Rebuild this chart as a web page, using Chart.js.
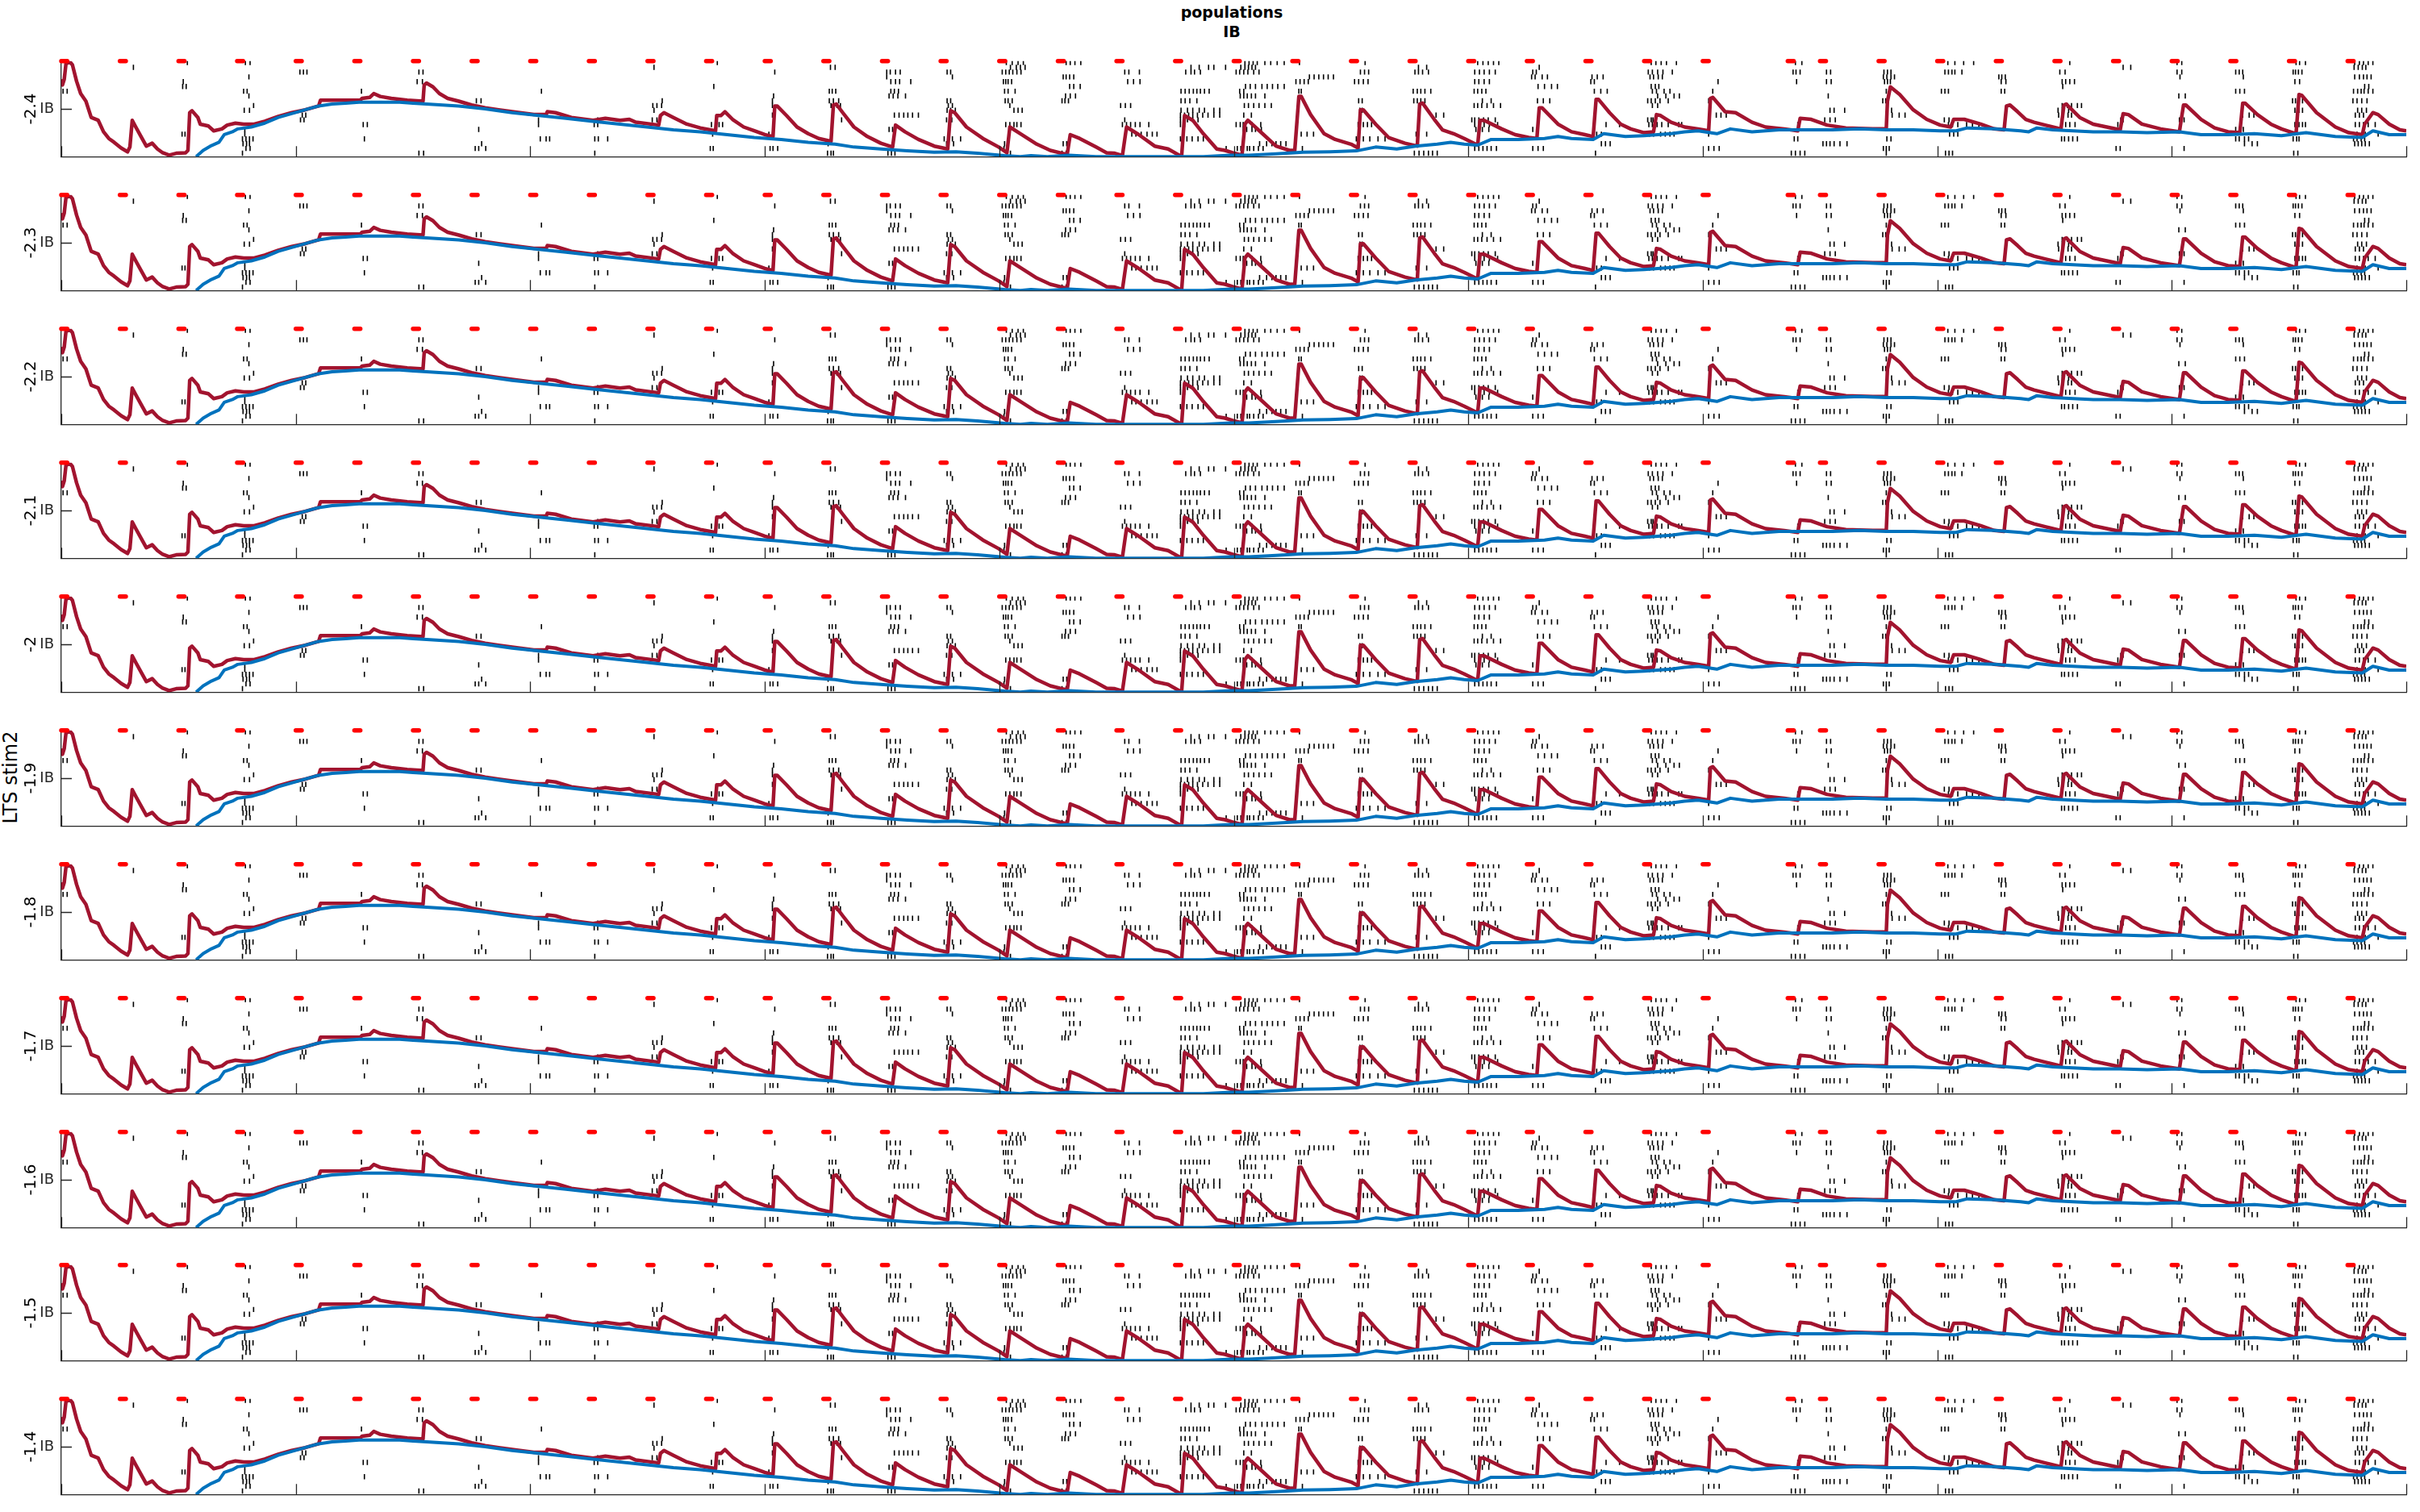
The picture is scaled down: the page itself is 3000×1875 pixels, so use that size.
<!DOCTYPE html>
<html>
<head>
<meta charset="utf-8">
<script src="https://cdn.jsdelivr.net/npm/chart.js@4.4.1/dist/chart.umd.min.js"></script>
<style>
  html, body { margin: 0; padding: 0; background: #fff; }
  #wrap { position: relative; width: 3000px; height: 1875px; background: #fff; overflow: hidden; }
  .panel { position: absolute; left: 0; width: 3000px; height: 158px; }
  .txt { position: absolute; font-family: "DejaVu Sans", sans-serif; color: #000; white-space: nowrap; }
</style>
</head>
<body>
<div id="wrap">
  <div class="txt" id="t1" style="left:1527px;top:15px;transform:translate(-50%,-50%);font-size:19px;font-weight:bold;">populations</div>
  <div class="txt" id="t2" style="left:1527px;top:39px;transform:translate(-50%,-50%);font-size:19px;font-weight:bold;">IB</div>
  <div class="txt" id="t3" style="left:13px;top:964px;transform:translate(-50%,-50%) rotate(-90deg);font-size:24px;">LTS stim2</div>
</div>
<script>
// ---------- data ----------
const panelLabels = ['-2.4','-2.3','-2.2','-2.1','-2','-1.9','-1.8','-1.7','-1.6','-1.5','-1.4'];
const xMin = 0, xMax = 4000;
const xTickValues = [0,400,800,1200,1600,2000,2400,2800,3200,3600,4000];
const yTickValues = [0.5];
const yTickLabels = ['IB'];
const stimOnsets = [0,100,200,300,400,500,600,700,800,900,1000,1100,1200,1300,1400,1500,1600,1700,1800,1900,2000,2100,2200,2300,2400,2500,2600,2700,2800,2945,3000,3100,3200,3300,3400,3500,3600,3700,3800,3900];
const stimDuration = 10;
const stimLevel = 1;

const redTrace = [[0,0.81],[2,0.75],[5,0.81],[8,0.975],[15,0.99],[19,0.96],[26,0.79],[33,0.66],[42,0.58],[51,0.41],[63,0.38],[72,0.26],[81,0.19],[90,0.15],[102,0.09],[113,0.05],[117,0.10],[121,0.38],[127,0.31],[136,0.21],[145,0.11],[155,0.14],[164,0.08],[173,0.04],[184,0.015],[196,0.035],[212,0.04],[216,0.065],[219,0.46],[223,0.48],[233,0.41],[237,0.34],[251,0.32],[260,0.27],[274,0.29],[283,0.33],[297,0.35],[311,0.34],[329,0.34],[347,0.37],[370,0.42],[393,0.46],[416,0.49],[439,0.53],[442,0.59],[462,0.59],[485,0.59],[510,0.59],[513,0.61],[526,0.62],[533,0.66],[544,0.63],[563,0.61],[590,0.59],[617,0.58],[619,0.75],[623,0.77],[634,0.73],[645,0.66],[659,0.61],[678,0.58],[700,0.54],[723,0.51],[746,0.49],[769,0.47],[806,0.44],[827,0.44],[829,0.47],[843,0.46],[870,0.41],[907,0.38],[928,0.40],[953,0.38],[969,0.39],[980,0.36],[1019,0.33],[1022,0.43],[1028,0.46],[1044,0.41],[1067,0.34],[1090,0.30],[1116,0.27],[1118,0.43],[1125,0.43],[1132,0.47],[1145,0.39],[1164,0.31],[1182,0.27],[1200,0.23],[1214,0.21],[1217,0.53],[1221,0.53],[1237,0.43],[1255,0.31],[1274,0.24],[1292,0.19],[1313,0.16],[1317,0.54],[1322,0.55],[1333,0.46],[1352,0.31],[1375,0.21],[1398,0.14],[1418,0.10],[1423,0.33],[1439,0.26],[1462,0.18],[1489,0.11],[1512,0.08],[1517,0.48],[1524,0.46],[1544,0.31],[1572,0.19],[1599,0.10],[1613,0.04],[1618,0.31],[1636,0.24],[1664,0.13],[1687,0.065],[1710,0.03],[1716,0.03],[1721,0.23],[1737,0.19],[1765,0.10],[1783,0.04],[1797,0.035],[1810,0.01],[1817,0.31],[1838,0.23],[1865,0.11],[1888,0.08],[1911,0.0],[1916,0.43],[1930,0.38],[1948,0.24],[1971,0.08],[1985,0.065],[1998,0.04],[2014,0.015],[2019,0.34],[2024,0.38],[2049,0.24],[2072,0.11],[2095,0.065],[2104,0.065],[2111,0.63],[2115,0.63],[2131,0.44],[2154,0.24],[2173,0.18],[2200,0.13],[2212,0.09],[2216,0.49],[2221,0.49],[2242,0.34],[2264,0.20],[2292,0.14],[2313,0.11],[2317,0.55],[2322,0.56],[2342,0.39],[2356,0.28],[2375,0.24],[2393,0.19],[2416,0.12],[2420,0.38],[2427,0.38],[2457,0.29],[2480,0.23],[2503,0.20],[2517,0.19],[2521,0.51],[2526,0.51],[2553,0.34],[2576,0.26],[2599,0.23],[2613,0.21],[2618,0.60],[2622,0.60],[2641,0.46],[2660,0.34],[2677,0.29],[2700,0.25],[2716,0.26],[2721,0.44],[2728,0.43],[2746,0.36],[2769,0.31],[2792,0.29],[2810,0.27],[2813,0.61],[2817,0.62],[2838,0.47],[2856,0.46],[2884,0.36],[2907,0.31],[2939,0.29],[2962,0.27],[2966,0.40],[2985,0.39],[3012,0.33],[3044,0.30],[3090,0.29],[3113,0.29],[3115,0.58],[3120,0.73],[3136,0.65],[3159,0.49],[3182,0.39],[3205,0.33],[3223,0.31],[3228,0.39],[3246,0.39],[3274,0.34],[3297,0.29],[3314,0.28],[3318,0.53],[3324,0.54],[3337,0.47],[3351,0.39],[3365,0.36],[3384,0.33],[3411,0.29],[3416,0.54],[3420,0.55],[3443,0.41],[3466,0.34],[3489,0.31],[3512,0.28],[3517,0.45],[3526,0.44],[3549,0.34],[3581,0.29],[3613,0.26],[3620,0.54],[3624,0.54],[3650,0.39],[3673,0.30],[3696,0.26],[3716,0.25],[3721,0.56],[3725,0.56],[3746,0.44],[3769,0.34],[3787,0.29],[3812,0.24],[3817,0.65],[3822,0.64],[3847,0.46],[3879,0.31],[3902,0.25],[3925,0.23],[3929,0.34],[3943,0.46],[3952,0.44],[3971,0.34],[3989,0.28],[4000,0.27]];

const blueTrace = [[230,0.0],[242,0.065],[256,0.115],[269,0.15],[278,0.23],[292,0.26],[301,0.29],[324,0.31],[347,0.35],[370,0.41],[393,0.45],[416,0.49],[439,0.53],[462,0.55],[485,0.56],[508,0.57],[531,0.57],[554,0.57],[577,0.57],[600,0.56],[623,0.55],[678,0.53],[723,0.50],[769,0.46],[815,0.43],[861,0.40],[907,0.37],[953,0.34],[999,0.31],[1044,0.28],[1090,0.26],[1136,0.23],[1182,0.20],[1228,0.18],[1274,0.15],[1320,0.13],[1352,0.10],[1398,0.08],[1443,0.06],[1489,0.045],[1526,0.05],[1563,0.035],[1609,0.01],[1636,0.0],[1654,0.01],[1682,0.0],[1719,0.015],[1765,0.0],[1801,0.0],[1879,0.0],[1948,0.0],[1994,0.015],[2026,0.015],[2072,0.03],[2118,0.045],[2164,0.05],[2209,0.06],[2242,0.10],[2278,0.08],[2310,0.11],[2347,0.13],[2370,0.15],[2393,0.13],[2416,0.12],[2439,0.18],[2462,0.18],[2485,0.18],[2530,0.19],[2553,0.21],[2576,0.19],[2613,0.18],[2631,0.24],[2668,0.21],[2700,0.22],[2723,0.23],[2746,0.24],[2769,0.26],[2792,0.27],[2824,0.24],[2847,0.29],[2884,0.26],[2930,0.28],[2975,0.28],[3021,0.28],[3067,0.29],[3113,0.28],[3159,0.28],[3205,0.27],[3232,0.27],[3251,0.30],[3297,0.29],[3342,0.27],[3356,0.26],[3370,0.30],[3397,0.28],[3466,0.26],[3512,0.26],[3558,0.25],[3613,0.26],[3650,0.23],[3696,0.23],[3741,0.24],[3787,0.22],[3829,0.25],[3879,0.21],[3925,0.20],[3943,0.27],[3971,0.23],[4000,0.23]];

// spike times (ms) per raster row, row 0 = top cell
const spikeTimes = [
 [215,314,322,1119,1612,1622,1632,1641,1714,1721,1729,1739,2019,2026,2033,2040,2053,2063,2074,2086,2112,2224,2416,2425,2434,2443,2452,2712,2720,2729,2738,2755,2958,2969,3218,3230,3245,3262,3426,3609,3617,3812,3818,3828,3912,3920,3927,3935,3943],
 [123,1011,1312,1320,1619,1629,1636,1644,1927,1941,1957,1966,1986,2012,2019,2025,2031,2037,2315,2329,2521,3517,3530,3911,3918,3925,3931],
 [407,413,419,610,617,1217,1408,1414,1423,1431,1511,1517,1605,1611,1617,1623,1630,1637,1814,1821,1839,1918,1927,1933,1943,2004,2010,2017,2024,2034,2043,2216,2223,2230,2309,2315,2322,2332,2411,2419,2427,2436,2446,2510,2516,2707,2714,2723,2732,2748,2954,2959,2966,3011,3018,3109,3115,3121,3213,3219,3225,3230,3242,3409,3418,3609,3617,3709,3715,3721,3807,3811,3816,3822],
 [320,1408,1520,1709,1714,1720,1727,2129,2137,2145,2153,2161,2170,2508,2514,2526,2535,2611,2620,2630,2710,2716,2724,2731,3108,3114,3121,3127,3305,3310,3316,3614,3722,3912,3920,3927,3933,3940],
 [208,607,616,1415,1423,1430,1449,1607,1611,1615,1621,1819,1829,1840,2106,2113,2120,2127,2206,2213,2221,2229,2411,2418,2427,2436,2609,2615,2826,2960,3011,3019,3110,3115,3120,3309,3317,3413,3419,3426,3434,3810,3818],
 [207,213,1113,1720,1727,1738,2020,2028,2037,2048,2057,2066,2075,2086,2519,2530,2542,2552,2712,2719,2725,3414,3929,3936],
 [3,10,311,317,512,819,1310,1315,1321,1415,1421,1428,1609,1615,1627,1910,1917,1924,1931,1937,1943,1950,1958,2010,2017,2111,2115,2306,2313,2319,2326,2336,2410,2416,2423,2430,2615,2626,2637,2714,2721,2734,2744,2817,3113,3207,3213,3219,3309,3315,3709,3716,3724,3910,3917,3923,3928,3935,3943],
 [320,1215,1412,1419,1427,1440,1713,1721,1730,2011,2017,2023,2030,2037,2053,2723,2737,2751,2760,3014,3612,3623],
 [708,716,1025,1213,1310,1317,1326,1511,1517,1610,1615,1622,1707,1712,1718,1910,1917,1925,1937,2213,2219,2307,2313,2319,2326,2424,2439,2518,2528,2539,2706,2712,2719,2727,2741,2810,3107,3112,3806,3811,3816,3823,3909,3916,3924,3933],
 [328,1009,1016,1024,1213,1313,1323,1329,1513,1520,1618,1807,1815,1824,2018,2025,2034,2043,2053,2064,2410,2416,2423,2432,2443,2455,2714,2723,2813,3413,3422,3429,3439,3446],
 [312,321,1011,1511,1517,1525,1625,1632,1639,1910,1921,1930,1941,1950,1966,1976,2215,2219,3017,3024,3042,3114,3122,3406,3413,3424,3810,3817,3823,3917,3924,3932],
 [411,417,1213,1421,1429,1437,1444,1452,1462,1909,1916,1923,1930,1938,1947,1956,1966,1976,2017,2030,2317,2345,2358,2811,2823,2831,2840,3114,3123,3135,3145,3407,3414,3423,3429,3721,3732,3740,3913,3920,3927],
 [408,414,814,915,1008,1016,1331,1510,1519,1814,1909,1921,1930,1939,2406,2411,2418,2426,2434,2446,2706,2712,2715,3008,3017,3026,3212,3220,3513,3517,3613,3621],
 [515,522,814,909,915,1109,1116,1122,1128,1611,1618,1625,1630,1637,1810,1817,1824,1832,1840,1855,1909,1916,2004,2011,2016,2031,2046,2212,2221,2228,2235,2411,2418,2427,2436,2450,2635,2658,2708,2714,2722,2730,2741,2759,2764,2962,3219,3226,3235,3250,3260,3271,3411,3419,3426,3435,3508,3514,3810,3817,3823,3828,3913,3920,3927,3935,3947],
 [313,712,1412,1418,2016,2022,2031,2037,2047,2413,2424,2435,2510,3709,3715,3722],
 [206,211,313,1111,1207,1826,1833,1842,1852,1861,1869,2106,2115,2125,2136,2311,2329,2619,2627,2709,2716,2728,2736,2744,2751,2810,3221,3228,3235,3916,3924,3930,3952],
 [309,315,321,327,517,817,827,833,910,916,932,1506,1512,1520,1534,1909,1920,1929,1939,1948,2209,2221,2232,2246,2258,2956,2962,3114,3121,3412,3417,3424,3431,3439,3709,3715,3724,3731,3807,3813,3817,3910,3916,3923,3929],
 [310,316,321,717,1308,1510,1522,1609,1614,1709,1715,2044,2056,2065,2072,2080,2089,2627,2634,2642,3005,3011,3017,3024,3034,3046,3724,3737,3746,3912,3918,3924,3930,3937],
 [315,322,706,712,724,1107,1112,1209,1214,1222,1608,1987,2006,2012,2023,2027,2034,2042,2050,2117,2411,2418,2425,2432,2439,2448,2510,2519,2528,2810,2819,2828,3108,3113,3118,3505,3512,3621],
 [309,610,618,910,1307,1313,1317,1410,1416,1422,1619,1707,1714,2308,2316,2324,2332,2339,2347,2617,2951,2958,2966,2974,3113,3214,3220,3226,3808,3815]
];
const rowTop = 0.985;     // y position of row 0
const rowStep = 0.05;     // spacing between raster rows

// ---------- layout ----------
const plotLeft = 76, plotRight = 2983, firstTop = 68.3, panelStep = 165.9, plotHeight = 134;
const padTop = 12, padBottom = 12;

// ---------- derived datasets ----------
const stimData = [];
stimOnsets.forEach(t => {
  stimData.push({x: t, y: stimLevel});
  stimData.push({x: t + stimDuration, y: stimLevel});
  stimData.push({x: t + stimDuration, y: null});
});
const rasterData = [];
spikeTimes.forEach((row, i) => row.forEach(t => rasterData.push({x: t, y: rowTop - rowStep * i})));
const redData = redTrace.map(p => ({x: p[0], y: p[1]}));
const blueData = blueTrace.map(p => ({x: p[0], y: p[1]}));

const inwardTicks = {
  id: 'inwardTicks',
  afterDatasetsDraw(chart) {
    const {ctx, scales: {x, y}, chartArea} = chart;
    ctx.save();
    ctx.strokeStyle = '#262626';
    ctx.lineWidth = 1.3;
    ctx.beginPath();
    xTickValues.forEach(v => {
      const px = Math.round(x.getPixelForValue(v)) + 0.5;
      ctx.moveTo(px, chartArea.bottom);
      ctx.lineTo(px, chartArea.bottom - 13);
    });
    yTickValues.forEach(v => {
      const py = Math.round(y.getPixelForValue(v)) + 0.5;
      ctx.moveTo(chartArea.left, py);
      ctx.lineTo(chartArea.left + 13, py);
    });
    ctx.stroke();
    ctx.restore();
  }
};

const wrap = document.getElementById('wrap');
panelLabels.forEach((label, i) => {
  const top = firstTop + i * panelStep - padTop;
  const div = document.createElement('div');
  div.className = 'panel';
  div.style.top = top + 'px';
  div.style.height = (plotHeight + padTop + padBottom) + 'px';
  const canvas = document.createElement('canvas');
  canvas.width = 3000;
  canvas.height = plotHeight + padTop + padBottom;
  div.appendChild(canvas);
  wrap.appendChild(div);

  new Chart(canvas, {
    data: {
      datasets: [
        {type: 'line', data: stimData, borderColor: '#FF0000', borderWidth: 5.5, borderCapStyle: 'round',
         pointRadius: 0, spanGaps: false, clip: false, order: 0},
        {type: 'line', data: blueData, borderColor: '#0072BD', borderWidth: 4, borderJoinStyle: 'round',
         pointRadius: 0, tension: 0, order: 1},
        {type: 'line', data: redData, borderColor: '#A2142F', borderWidth: 4.5, borderJoinStyle: 'round',
         pointRadius: 0, tension: 0, order: 2},
        {type: 'scatter', data: rasterData, pointStyle: 'line', rotation: 90, radius: 3.2,
         borderColor: '#000', backgroundColor: '#000', borderWidth: 1.6, order: 3}
      ]
    },
    options: {
      responsive: false,
      animation: false,
      devicePixelRatio: 1,
      events: [],
      layout: {padding: {left: 0, right: 3000 - plotRight, top: padTop, bottom: 0}},
      plugins: {legend: {display: false}, tooltip: {enabled: false}, title: {display: false}},
      scales: {
        x: {
          type: 'linear', min: xMin, max: xMax, position: 'bottom',
          ticks: {display: false},
          grid: {display: false, drawTicks: false},
          border: {display: true, color: '#262626', width: 1.3},
          afterFit: s => { s.height = padBottom; }
        },
        y: {
          type: 'linear', min: 0, max: 1, position: 'left',
          afterBuildTicks: s => { s.ticks = yTickValues.map(v => ({value: v})); },
          ticks: {
            callback: (v, idx) => yTickLabels[idx],
            font: {family: 'DejaVu Sans', size: 18},
            color: '#262626', padding: 9
          },
          grid: {display: false, drawTicks: false},
          border: {display: true, color: '#262626', width: 1.3},
          title: {display: true, text: label, font: {family: 'DejaVu Sans', size: 20}, color: '#000',
                  padding: {top: 27, bottom: 0}},
          afterFit: s => { s.width = plotLeft; }
        }
      }
    },
    plugins: [inwardTicks]
  });
});
</script>
</body>
</html>
